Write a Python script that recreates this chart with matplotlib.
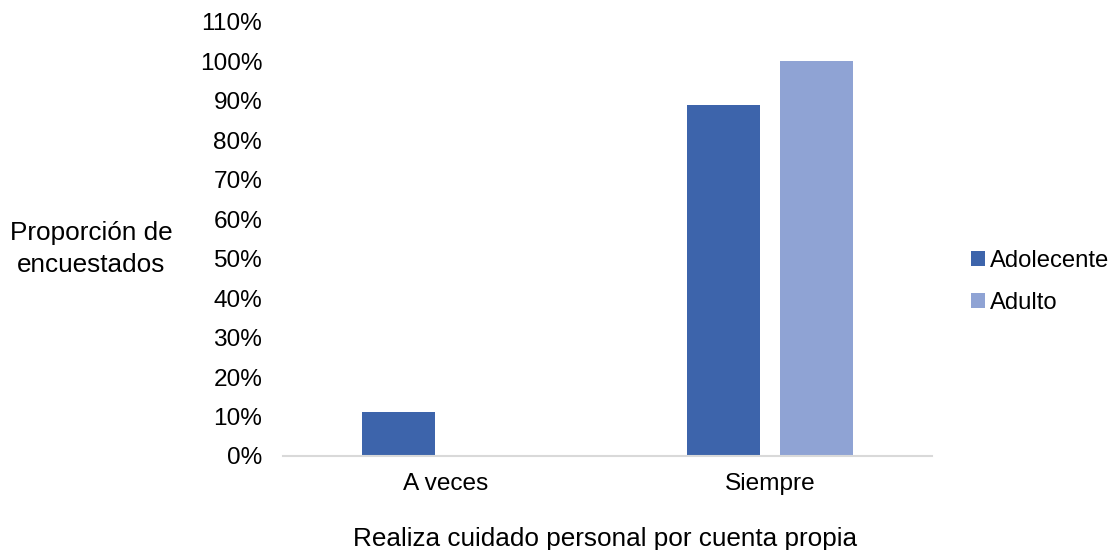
import numpy as np
import matplotlib
matplotlib.use("Agg")
import matplotlib.pyplot as plt
from matplotlib.ticker import PercentFormatter

plt.rcParams['font.family'] = ['Liberation Sans', 'DejaVu Sans']

# Datos
categorias = ['A veces', 'Siempre']
series = ['Adolecente', 'Adulto']
adolecente = [0.111, 0.889]
adulto = [0.0, 1.0]
colores = ['#3D64AB', '#8FA3D4']

fig = plt.figure(figsize=(11.12, 5.5), dpi=100)
ax = fig.add_axes([283 / 1112, 1 - 456 / 550, (932 - 283) / 1112, (456 - 22) / 550])

x = np.arange(len(categorias))
ancho = 0.225
desp = 0.1433
ax.bar(x - desp, adolecente, ancho, color=colores[0], label=series[0])
ax.bar(x + desp, adulto, ancho, color=colores[1], label=series[1])

ax.set_xlim(-0.5, 1.5)
ax.set_ylim(0, 1.1)
ax.set_yticks(np.arange(0, 1.11, 0.1))
ax.yaxis.set_major_formatter(PercentFormatter(1.0, decimals=0))
ax.set_xticks(x)
ax.set_xticklabels(categorias)
ax.tick_params(length=0, labelsize=17.6, colors='#000000')
ax.tick_params(axis='y', pad=15)
ax.tick_params(axis='x', pad=12)

for s in ['top', 'right', 'left']:
    ax.spines[s].set_visible(False)
ax.spines['bottom'].set_color('#d9d9d9')
ax.spines['bottom'].set_linewidth(1.5)

fig.text(605 / 1112, 1 - 539 / 550, 'Realiza cuidado personal por cuenta propia',
         ha='center', va='center', fontsize=18.8)
fig.text(91 / 1112, 1 - 249 / 550, 'Proporción de\nencuestados',
         ha='center', va='center', fontsize=18.8, linespacing=1.45)

leg = fig.legend(loc='center left', bbox_to_anchor=(971 / 1112, 1 - 282 / 550),
                 frameon=False, fontsize=17.2, handlelength=0.6, handleheight=0.6,
                 handletextpad=0.2, labelspacing=0.82, borderpad=0, borderaxespad=0)

fig.savefig('out.png', dpi=100)
